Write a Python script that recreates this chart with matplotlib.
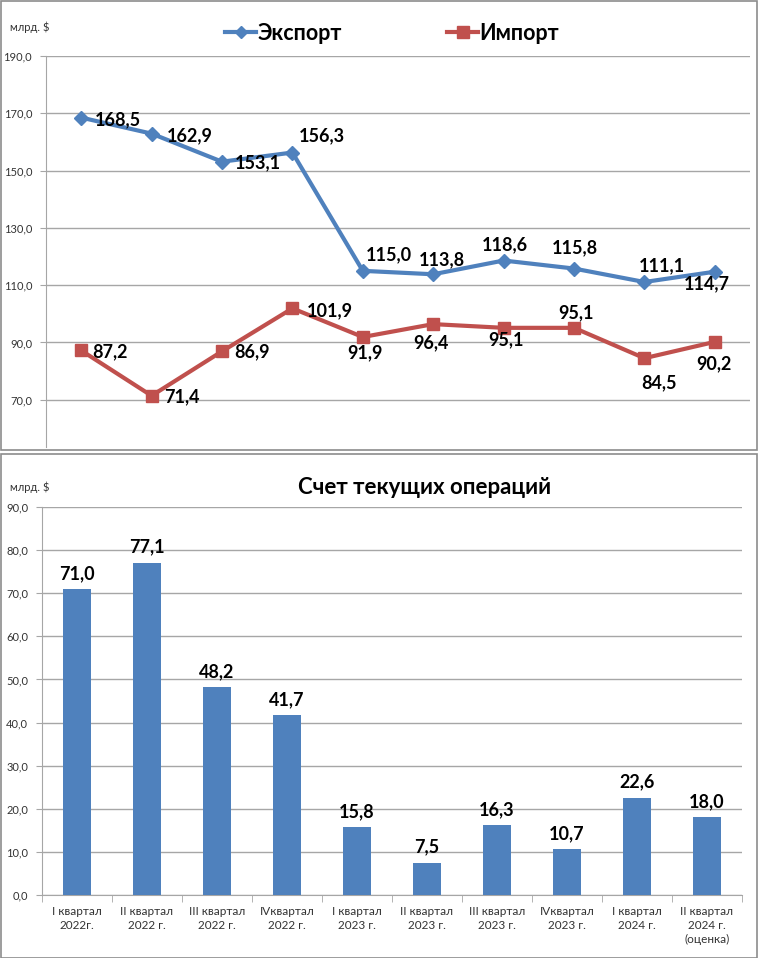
import matplotlib
matplotlib.use("Agg")
import matplotlib.pyplot as plt
from matplotlib.patches import Rectangle
from matplotlib.lines import Line2D

plt.rcParams['font.family'] = ['Lato', 'DejaVu Sans']

quarters = ["I квартал\n2022г.", "II квартал\n2022 г.", "III квартал\n2022 г.", "IVквартал\n2022 г.",
            "I квартал\n2023 г.", "II квартал\n2023 г.", "III квартал\n2023 г.", "IVквартал\n2023 г.",
            "I квартал\n2024 г.", "II квартал\n2024 г.\n(оценка)"]
export_vals = [168.5, 162.9, 153.1, 156.3, 115.0, 113.8, 118.6, 115.8, 111.1, 114.7]
import_vals = [87.2, 71.4, 86.9, 101.9, 91.9, 96.4, 95.1, 95.1, 84.5, 90.2]
current_account = [71.0, 77.1, 48.2, 41.7, 15.8, 7.5, 16.3, 10.7, 22.6, 18.0]
top_ticks = [70, 90, 110, 130, 150, 170, 190]
bottom_ticks = [0, 10, 20, 30, 40, 50, 60, 70, 80, 90]

BLUE = "#4F81BD"
RED = "#C0504D"
GRID = "#A6A6A6"

fig = plt.figure(figsize=(7.58, 9.58), dpi=100)
fig.patch.set_facecolor("white")

# chart frames
fig.add_artist(Rectangle((0.5/758, 1 - 450/958), 756/758, 449/958, transform=fig.transFigure,
                         fill=False, edgecolor="#8C8C8C", lw=1.2))
fig.add_artist(Rectangle((0.5/758, 0.5/958), 756/758, (958-454)/958, transform=fig.transFigure,
                         fill=False, edgecolor="#8C8C8C", lw=1.2))

def fmt(v):
    return f"{v:.1f}".replace(".", ",")

PX = 0.72  # pixels -> points at dpi 100

# ---------- top chart ----------
ax1 = fig.add_axes([46/758, 1 - 447/958, 704/758, 391/958])
x = list(range(len(export_vals)))
ax1.plot(x, export_vals, color=BLUE, lw=3, marker="D", ms=7, zorder=3)
ax1.plot(x, import_vals, color=RED, lw=3, marker="s", ms=9, zorder=3)
ax1.set_xlim(-0.5, len(x) - 0.5)
ax1.set_ylim(53.5, 190)
ax1.set_yticks(top_ticks)
ax1.set_yticklabels([fmt(t) for t in top_ticks], fontsize=8, color="#333333")
ax1.set_xticks([])
ax1.grid(axis="y", color=GRID, lw=1)
ax1.set_axisbelow(True)
for s in ["top", "right", "bottom"]:
    ax1.spines[s].set_visible(False)
ax1.spines["left"].set_color(GRID)
ax1.tick_params(axis="y", length=4, color=GRID, pad=6)

# label offsets in pixels (dx, dy downward, alignment)
exp_off = [(14, 2, "left"), (15, 2, "left"), (13, 1, "left"), (29, -17, "center"),
           (26, -16, "center"), (9, -15, "center"), (1, -16, "center"), (1, -21, "center"),
           (17, -16, "center"), (-8, 12, "center")]
imp_off = [(11, 1, "left"), (13, 1, "left"), (12, 0, "left"), (14, 2, "left"),
           (2, 16, "center"), (-2, 19, "center"), (2, 12, "center"), (2, -15, "center"),
           (15, 25, "center"), (-1, 22, "center")]
for vals, offs in ((export_vals, exp_off), (import_vals, imp_off)):
    for i, v in enumerate(vals):
        dx, dy, ha = offs[i]
        ax1.annotate(fmt(v), (i, v), xytext=(dx * PX, -dy * PX), textcoords="offset points",
                     ha=ha, va="center", fontsize=13, fontweight="bold", color="black")

h1 = Line2D([], [], color=BLUE, lw=3, marker="D", ms=6)
h2 = Line2D([], [], color=RED, lw=3, marker="s", ms=8)
fig.legend([h1, h2], ["Экспорт", "Импорт"], loc="center", bbox_to_anchor=(392/758, 1 - 33/958),
           ncol=2, frameon=False, prop={"size": 15.5, "weight": "bold"}, handlelength=1.45,
           columnspacing=4.9, handletextpad=0.05)
fig.text(10/758, 1 - 27/958, "млрд. $", fontsize=8, color="#333333", va="center")

# ---------- bottom chart ----------
ax2 = fig.add_axes([42/758, 1 - 895/958, 700/758, 388/958])
ax2.bar(x, current_account, width=0.4, color=BLUE, zorder=3)
ax2.set_xlim(-0.5, len(x) - 0.5)
ax2.set_ylim(0, 90)
ax2.set_yticks(bottom_ticks)
ax2.set_yticklabels([fmt(t) for t in bottom_ticks], fontsize=8, color="#333333")
ax2.set_xticks(x)
ax2.set_xticklabels(quarters, fontsize=8.5, color="#333333", linespacing=1.35)
ax2.set_xticks([i + 0.5 for i in range(-1, len(x))], minor=True)
ax2.tick_params(axis="x", which="major", length=0, pad=8)
ax2.tick_params(axis="x", which="minor", length=5, color=GRID)
ax2.tick_params(axis="y", length=4, color=GRID, pad=6)
ax2.grid(axis="y", color=GRID, lw=1)
ax2.set_axisbelow(True)
for s in ["top", "right"]:
    ax2.spines[s].set_visible(False)
ax2.spines["left"].set_color(GRID)
ax2.spines["bottom"].set_color(GRID)
for i, v in enumerate(current_account):
    ax2.annotate(fmt(v), (i, v), xytext=(0, 5), textcoords="offset points",
                 ha="center", va="bottom", fontsize=13, fontweight="bold", color="black")
fig.text(425/758, 1 - 487/958, "Счет текущих операций", fontsize=16, fontweight="bold",
         ha="center", va="center")
fig.text(10/758, 1 - 487/958, "млрд. $", fontsize=8, color="#333333", va="center")

fig.savefig("out.png", dpi=100)
